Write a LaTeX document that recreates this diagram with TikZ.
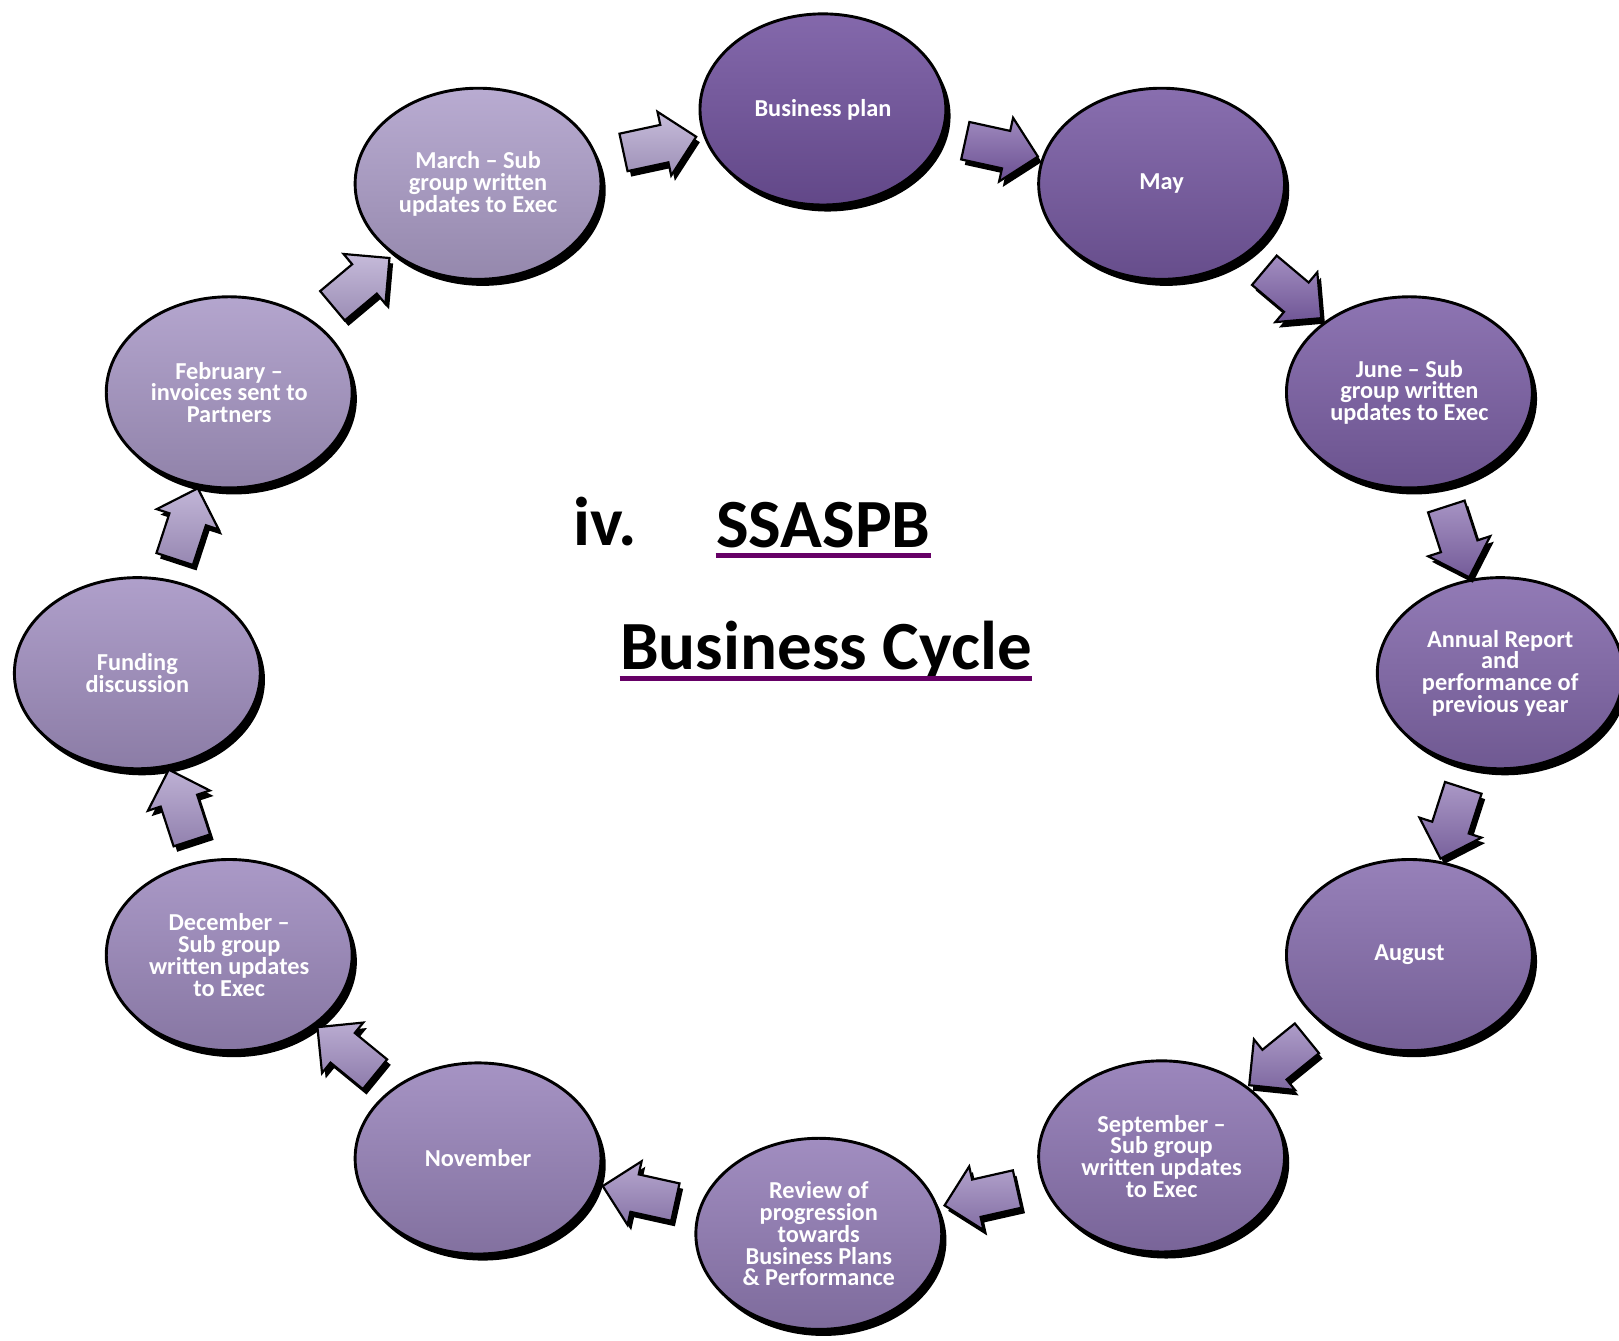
\documentclass[tikz,border=0pt]{standalone}
\usepackage{fontspec}
\setmainfont{Carlito}
\usepackage{tikz}
\usetikzlibrary{shapes.geometric, shapes.arrows, shadows, calc}
\definecolor{PurpleDark}{HTML}{7354A0}
\definecolor{PurpleLight}{HTML}{AFA0CB}
\definecolor{LinePurple}{HTML}{660066}
\tikzset{
  stage/.style={ellipse, minimum width=2.38cm, minimum height=1.85cm, inner sep=0pt,
    align=center, text=white, font=\bfseries\fontsize{6.7}{6}\selectfont,
    draw=black, line width=0.8pt,
    top color=PurpleLight!#1!PurpleDark!88!white, bottom color=PurpleLight!#1!PurpleDark!85!black,
    general shadow={fill=black, shadow xshift=1.3pt, shadow yshift=-1.8pt}},
  cyclearrow/.style={single arrow, minimum height=0.72cm, text height=0.35cm, text depth=0pt,
    inner sep=0pt, single arrow head extend=0.13cm, draw=black, line width=0.6pt,
    top color=PurpleLight!#1!PurpleDark!70!white, bottom color=PurpleLight!#1!PurpleDark!90!black,
    general shadow={fill=black, shadow xshift=1pt, shadow yshift=-1.5pt}},
  heading/.style={anchor=base west, inner sep=0pt, font=\bfseries\fontsize{19}{20}\selectfont},
  uline/.style={LinePurple, line width=1.4pt}
}
\begin{document}
\begin{tikzpicture}[x=0.01cm, y=-0.01cm]
\useasboundingbox (0,0) rectangle (1568,1298);
% the twelve stages, clockwise from the top
\node[stage=0] (bplan) at (797,106) {Business plan};
\node[stage=9] (may) at (1125,178) {May};
\node[stage=18] (june) at (1365,380) {June -- Sub\\group written\\updates to Exec};
\node[stage=27] (annual) at (1453,652) {Annual Report\\and\\performance of\\previous year};
\node[stage=36] (august) at (1365,925) {August};
\node[stage=45] (sept) at (1125,1120) {September --\\Sub group\\written updates\\to Exec};
\node[stage=55] (review) at (793,1195) {Review of\\progression\\towards\\Business Plans\\\& Performance};
\node[stage=64] (nov) at (463,1122) {November};
\node[stage=73] (dec) at (222,925) {December --\\Sub group\\written updates\\to Exec};
\node[stage=82] (funding) at (133,652) {Funding\\discussion};
\node[stage=91] (feb) at (222,380) {February --\\invoices sent to\\Partners};
\node[stage=100] (march) at (463,178) {March -- Sub\\group written\\updates to Exec};
% arrows half way between neighbours
\foreach \a/\b/\c in {bplan/may/5, may/june/14, june/annual/23, annual/august/32,
  august/sept/41, sept/review/50, review/nov/60, nov/dec/69, dec/funding/78,
  funding/feb/87, feb/march/96, march/bplan/100}
  \path let \p1=($(\b)-(\a)$), \n1={atan2(\y1,\x1)} in
    node[cyclearrow=\c, rotate=\n1] (arr-\a) at ($(\a)!0.5!(\b)$) {};
% title
\node[heading] (num) at (555,528) {iv.};
\node[heading] (org) at (693,530) {SSASPB};
\node[heading] (cycle) at (600,648) {Business Cycle};
\draw[uline] ([yshift=-2.2pt]org.base west) -- ([yshift=-2.2pt]org.base east);
\draw[uline] ([yshift=-2.5pt]cycle.base west) -- ([yshift=-2.5pt]cycle.base east);
\end{tikzpicture}
\end{document}
